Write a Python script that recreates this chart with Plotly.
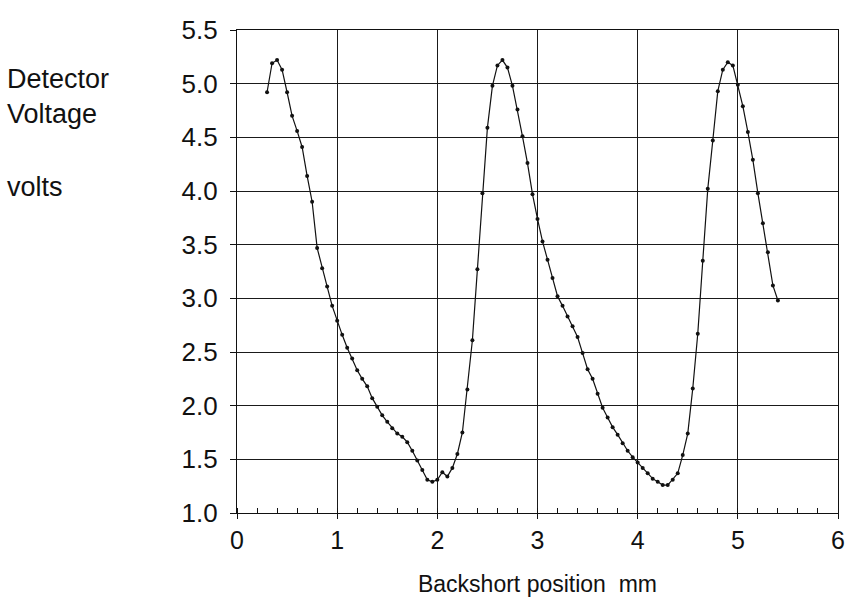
import plotly.graph_objects as go

position_mm = [0.30, 0.35, 0.40, 0.45, 0.50, 0.55, 0.60, 0.65, 0.70, 0.75,
               0.80, 0.85, 0.90, 0.95, 1.00, 1.05, 1.10, 1.15, 1.20, 1.25,
               1.30, 1.35, 1.40, 1.45, 1.50, 1.55, 1.60, 1.65, 1.70, 1.75,
               1.80, 1.85, 1.90, 1.95, 2.00, 2.05, 2.10, 2.15, 2.20, 2.25,
               2.30, 2.35, 2.40, 2.45, 2.50, 2.55, 2.60, 2.65, 2.70, 2.75,
               2.80, 2.85, 2.90, 2.95, 3.00, 3.05, 3.10, 3.15, 3.20, 3.25,
               3.30, 3.35, 3.40, 3.45, 3.50, 3.55, 3.60, 3.65, 3.70, 3.75,
               3.80, 3.85, 3.90, 3.95, 4.00, 4.05, 4.10, 4.15, 4.20, 4.25,
               4.30, 4.35, 4.40, 4.45, 4.50, 4.55, 4.60, 4.65, 4.70, 4.75,
               4.80, 4.85, 4.90, 4.95, 5.00, 5.05, 5.10, 5.15, 5.20, 5.25,
               5.30, 5.35, 5.40]

voltage = [4.92, 5.19, 5.22, 5.13, 4.92, 4.70, 4.56, 4.41, 4.14, 3.90,
           3.47, 3.28, 3.11, 2.93, 2.79, 2.66, 2.54, 2.44, 2.33, 2.25,
           2.18, 2.07, 1.99, 1.91, 1.85, 1.79, 1.74, 1.71, 1.66, 1.58,
           1.49, 1.40, 1.31, 1.29, 1.31, 1.38, 1.34, 1.42, 1.55, 1.75,
           2.15, 2.61, 3.27, 3.98, 4.59, 4.98, 5.17, 5.22, 5.15, 4.98,
           4.76, 4.51, 4.26, 3.97, 3.74, 3.53, 3.36, 3.19, 3.02, 2.93,
           2.83, 2.74, 2.64, 2.49, 2.34, 2.25, 2.11, 1.98, 1.89, 1.80,
           1.73, 1.65, 1.58, 1.52, 1.47, 1.42, 1.37, 1.32, 1.29, 1.26,
           1.26, 1.31, 1.37, 1.54, 1.74, 2.16, 2.67, 3.35, 4.02, 4.47,
           4.93, 5.13, 5.20, 5.17, 4.99, 4.79, 4.55, 4.29, 3.98, 3.70,
           3.43, 3.12, 2.98]

x_ticks = [0, 1, 2, 3, 4, 5, 6]
y_ticks = [1.0, 1.5, 2.0, 2.5, 3.0, 3.5, 4.0, 4.5, 5.0, 5.5]
y_tick_labels = ["1.0", "1.5", "2.0", "2.5", "3.0", "3.5", "4.0", "4.5", "5.0", "5.5"]

FONT = "Liberation Sans, Arial, Helvetica, sans-serif"

fig = go.Figure()
fig.add_trace(go.Scatter(
    x=position_mm, y=voltage, mode="lines+markers",
    line=dict(color="#111111", width=1.2),
    marker=dict(color="#111111", size=4),
    showlegend=False,
))

fig.update_layout(
    width=848, height=603,
    margin=dict(l=237, r=10, t=30, b=90, autoexpand=False),
    paper_bgcolor="white", plot_bgcolor="white",
    font=dict(family=FONT, color="#111111"),
    xaxis=dict(
        range=[0, 6], tickvals=x_ticks, ticks="outside", ticklen=5,
        tickcolor="#111111", tickfont=dict(size=25), automargin=False,
        showgrid=True, gridcolor="#1a1a1a", gridwidth=1.3,
        showline=True, linecolor="#111111", linewidth=1.3, mirror=True,
        zeroline=False,
        minor=dict(dtick=0.2, ticks="inside", ticklen=5, tickcolor="#111111", showgrid=False),
        title=dict(text="Backshort position  mm", font=dict(size=23), standoff=22),
    ),
    yaxis=dict(
        range=[1.0, 5.5], tickvals=y_ticks, ticktext=y_tick_labels,
        ticks="outside", ticklen=6, tickcolor="#111111", tickfont=dict(size=26),
        ticklabelstandoff=7, automargin=False,
        showgrid=True, gridcolor="#1a1a1a", gridwidth=1.3,
        showline=True, linecolor="#111111", linewidth=1.3, mirror=True,
        zeroline=False,
    ),
    annotations=[
        dict(text="Detector<br>Voltage", xref="paper", yref="paper",
             x=(5 - 237) / 601, y=(513 - 62) / 483, xanchor="left", yanchor="top",
             showarrow=False, align="left", font=dict(size=27, family=FONT)),
        dict(text="volts", xref="paper", yref="paper",
             x=(5 - 237) / 601, y=(513 - 187) / 483, xanchor="left", yanchor="middle",
             showarrow=False, align="left", font=dict(size=27, family=FONT)),
    ],
)

fig.write_html("out.html")
